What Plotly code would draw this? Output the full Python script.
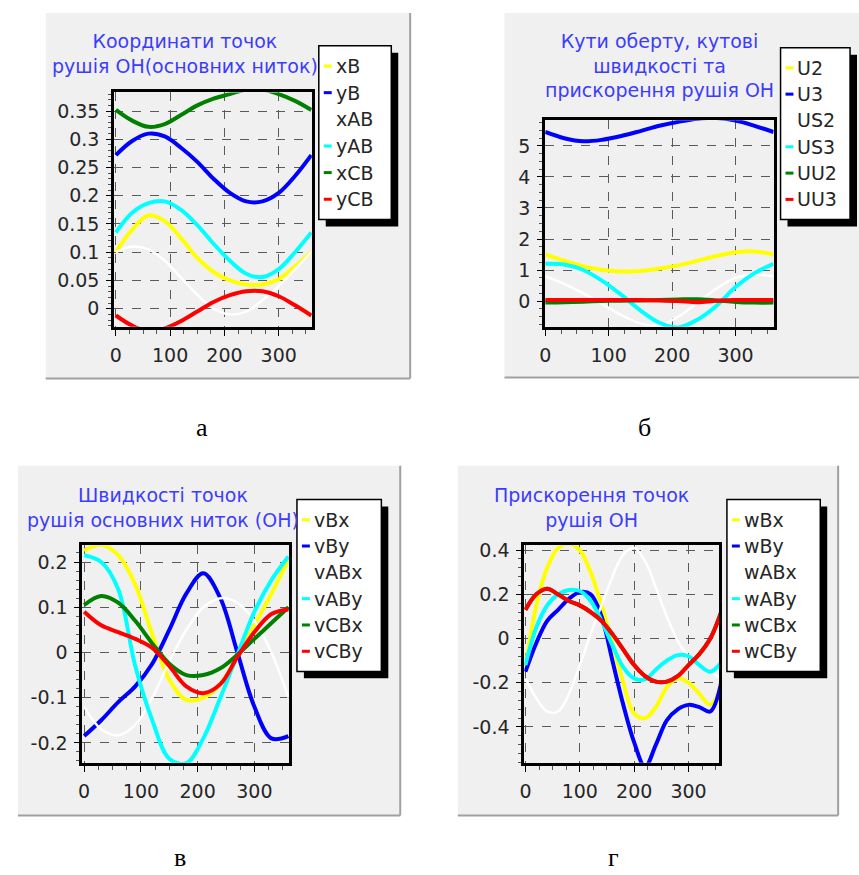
import plotly.graph_objects as go

W, H = 859, 875

# ---------------- data ----------------
x_deg = [0, 30, 60, 90, 120, 150, 180, 210, 240, 270, 300, 330, 360]
x_deg20 = [0, 20, 40, 60, 80, 100, 120, 140, 160, 180, 200, 220, 240, 260, 280, 300, 320, 340, 360]

# panel а : coordinates
names_a = ["xB", "yB", "xAB", "yAB", "xCB", "yCB"]
xB = [0.10, 0.14, 0.165, 0.155, 0.125, 0.09, 0.065, 0.05, 0.043, 0.043, 0.052, 0.075, 0.10]
yB = [0.272, 0.297, 0.31, 0.305, 0.285, 0.26, 0.23, 0.205, 0.19, 0.19, 0.205, 0.235, 0.272]
xAB = [0.10, 0.11, 0.105, 0.085, 0.055, 0.025, 0.0, -0.01, -0.005, 0.015, 0.04, 0.07, 0.10]
yAB = [0.135, 0.17, 0.187, 0.19, 0.175, 0.148, 0.115, 0.085, 0.062, 0.056, 0.07, 0.10, 0.135]
xCB = [0.352, 0.333, 0.322, 0.327, 0.343, 0.36, 0.372, 0.38, 0.388, 0.388, 0.38, 0.368, 0.352]
yCB = [-0.012, -0.03, -0.04, -0.035, -0.022, -0.005, 0.012, 0.024, 0.031, 0.031, 0.022, 0.006, -0.012]

# panel б : angles, angular velocities, accelerations
names_b = ["U2", "U3", "US2", "US3", "UU2", "UU3"]
U2 = [1.5, 1.3, 1.12, 1.0, 0.95, 0.97, 1.05, 1.15, 1.3, 1.45, 1.57, 1.6, 1.5]
U3 = [5.45, 5.25, 5.15, 5.2, 5.32, 5.48, 5.65, 5.78, 5.88, 5.9, 5.82, 5.65, 5.45]
US2 = [0.8, 0.55, 0.25, -0.1, -0.45, -0.72, -0.78, -0.5, -0.05, 0.4, 0.75, 0.85, 0.8]
US3 = [1.2, 1.18, 1.0, 0.65, 0.2, -0.3, -0.7, -0.85, -0.6, -0.15, 0.45, 0.9, 1.2]
UU2 = [-0.05, -0.04, -0.02, 0.0, 0.01, 0.02, 0.03, 0.05, 0.06, 0.02, -0.03, -0.05, -0.05]
UU3 = [0.03, 0.03, 0.03, 0.03, 0.03, 0.03, 0.02, 0.0, -0.04, 0.01, 0.03, 0.03, 0.03]

# panel в : velocities
names_c = ["vBx", "vBy", "vABx", "vABy", "vCBx", "vCBy"]
vBx = [0.225, 0.238, 0.215, 0.15, 0.04, -0.06, -0.105, -0.1, -0.07, -0.01, 0.06, 0.13, 0.205]
vBy = [-0.185, -0.15, -0.11, -0.075, -0.025, 0.05, 0.13, 0.175, 0.12, 0.0, -0.12, -0.19, -0.185]
vABx = [-0.12, -0.17, -0.183, -0.16, -0.1, -0.02, 0.05, 0.1, 0.12, 0.11, 0.07, 0.0, -0.1]
vABy = [0.215, 0.2, 0.14, -0.03, -0.15, -0.235, -0.245, -0.19, -0.1, -0.005, 0.09, 0.16, 0.212]
vCBx = [0.105, 0.125, 0.11, 0.07, 0.02, -0.025, -0.05, -0.05, -0.035, -0.005, 0.03, 0.065, 0.10]
vCBy = [0.09, 0.06, 0.045, 0.03, 0.01, -0.03, -0.075, -0.09, -0.07, -0.01, 0.045, 0.085, 0.095]

# panel г : accelerations
names_d = ["wBx", "wBy", "wABx", "wABy", "wCBx", "wCBy"]
wBx = [-0.13, 0.15, 0.32, 0.41, 0.43, 0.4, 0.3, 0.15, -0.02, -0.2, -0.34, -0.36, -0.31, -0.22, -0.18, -0.2, -0.25, -0.3, -0.22]
wBy = [-0.15, -0.02, 0.08, 0.13, 0.18, 0.21, 0.2, 0.1, -0.1, -0.3, -0.47, -0.58, -0.48, -0.37, -0.32, -0.3, -0.31, -0.33, -0.2]
wABx = [-0.18, -0.27, -0.33, -0.33, -0.25, -0.12, 0.02, 0.15, 0.28, 0.38, 0.41, 0.35, 0.23, 0.1, -0.01, -0.08, -0.12, -0.15, -0.18]
wABy = [-0.12, 0.05, 0.15, 0.2, 0.22, 0.215, 0.17, 0.08, -0.03, -0.13, -0.18, -0.185, -0.14, -0.1, -0.075, -0.08, -0.12, -0.15, -0.11]
wCBx = [0.13, 0.2, 0.225, 0.2, 0.17, 0.15, 0.12, 0.08, 0.02, -0.05, -0.12, -0.17, -0.195, -0.195, -0.17, -0.12, -0.07, 0.0, 0.12]
wCBy = [0.13, 0.2, 0.225, 0.2, 0.17, 0.15, 0.12, 0.08, 0.02, -0.05, -0.12, -0.17, -0.195, -0.195, -0.17, -0.12, -0.07, 0.0, 0.12]

titles = ["Координати точок<br>рушія ОН(основних ниток)",
          "Кути оберту, кутові<br>швидкості та<br>прискорення рушія ОН",
          "Швидкості точок<br>рушія основних ниток (ОН)",
          "Прискорення точок<br>рушія ОН"]
captions = ["а", "б", "в", "г"]
x_ticks = [0, 100, 200, 300]
y_ticks_a = [0, 0.05, 0.1, 0.15, 0.2, 0.25, 0.3, 0.35]
y_tick_text_a = ["0", "0.05", "0.1", "0.15", "0.2", "0.25", "0.3", "0.35"]
y_ticks_b = [0, 1, 2, 3, 4, 5]
y_ticks_c = [-0.2, -0.1, 0, 0.1, 0.2]
y_ticks_d = [-0.4, -0.2, 0, 0.2, 0.4]

series_colors = ["#ffff00", "#0000ff", "#ffffff", "#00ffff", "#008000", "#ff0000"]

# ---------------- layout helpers ----------------
def fx(px):
    return px / W

def fy(py):
    return 1 - py / H

FONT = "DejaVu Sans"
TXT = "#262626"
TITLE_COL = "#3c3cff"
PANEL_BG = "#f0f0f0"
TICK_SIZE = 19
TITLE_SIZE = 19

panels = [
    dict(box=(40, 7, 407, 375), plot=(109, 87, 308, 323), xr=[-3, 361], yr=[-0.032, 0.383],
         yt=y_ticks_a, ytt=y_tick_text_a, ydt=0.01, tx=180, ty=22, leg=(315, 40, 388, 215),
         names=names_a, data=[xB, yB, xAB, yAB, xCB, yCB], xs=x_deg, cap=(197, 424)),
    dict(box=(502, 7, 870, 374), plot=(543, 115, 773, 323), xr=[0, 360], yr=[-0.83, 5.83],
         yt=y_ticks_b, ytt=[str(v) for v in y_ticks_b], ydt=0.25, tx=658, ty=22, leg=(780, 42, 850, 215),
         names=names_b, data=[U2, U3, US2, US3, UU2, UU3], xs=x_deg, cap=(643, 424)),
    dict(box=(12, 463, 397, 815), plot=(77, 543, 285, 762), xr=[-3, 361], yr=[-0.244, 0.237],
         yt=y_ticks_c, ytt=["-0.2", "-0.1", "0", "0.1", "0.2"], ydt=0.02, tx=158, ty=479,
         leg=(293, 497, 378, 670), names=names_c, data=[vBx, vBy, vABx, vABy, vCBx, vCBy],
         xs=x_deg, cap=(175, 857)),
    dict(box=(455, 463, 838, 815), plot=(522, 543, 718, 762), xr=[-2, 356], yr=[-0.562, 0.422],
         yt=y_ticks_d, ytt=["-0.4", "-0.2", "0", "0.2", "0.4"], ydt=0.04, tx=590, ty=479,
         leg=(726, 497, 820, 670), names=names_d, data=[wBx, wBy, wABx, wABy, wCBx, wCBy],
         xs=x_deg20, cap=(612, 857)),
]

fig = go.Figure()
shapes = []
annotations = []

for i, p in enumerate(panels):
    k = "" if i == 0 else str(i + 1)
    l, t, r, b = p["plot"]
    bl, bt, br, bb = p["box"]
    shapes.append(dict(type="rect", xref="paper", yref="paper", x0=fx(bl), x1=fx(br),
                       y0=fy(bb), y1=fy(bt), fillcolor=PANEL_BG, line=dict(width=0), layer="below"))
    shapes.append(dict(type="line", xref="paper", yref="paper", x0=fx(bl), x1=fx(br),
                       y0=fy(bb), y1=fy(bb), line=dict(color="#a0a0a0", width=2), layer="below"))
    shapes.append(dict(type="line", xref="paper", yref="paper", x0=fx(br), x1=fx(br),
                       y0=fy(bb), y1=fy(bt), line=dict(color="#a0a0a0", width=2), layer="below"))

    fig.update_layout(**{
        "xaxis" + k: dict(domain=[fx(l), fx(r)], range=p["xr"], anchor="y" + k,
                          tickvals=x_ticks, ticks="outside", ticklen=6, tickwidth=1, tickcolor="#000",
                          minor=dict(dtick=25, tick0=0, ticks="outside", ticklen=4, tickcolor="#555",
                                     showgrid=False),
                          showgrid=True, gridcolor="#5a5a5a", griddash="dash", gridwidth=1,
                          showline=True, linecolor="#000", linewidth=3, mirror=True,
                          zeroline=False, tickfont=dict(family=FONT, size=TICK_SIZE, color=TXT),
                          ticklabelstandoff=3, fixedrange=True),
        "yaxis" + k: dict(domain=[fy(b), fy(t)], range=p["yr"], anchor="x" + k,
                          tickvals=p["yt"], ticktext=p["ytt"], ticks="outside", ticklen=5,
                          tickcolor="#000",
                          minor=dict(dtick=p["ydt"], tick0=0, ticks="outside", ticklen=3,
                                     tickcolor="#555", showgrid=False),
                          showgrid=True, gridcolor="#5a5a5a", griddash="dash", gridwidth=1,
                          showline=True, linecolor="#000", linewidth=3, mirror=True,
                          zeroline=False, tickfont=dict(family=FONT, size=TICK_SIZE, color=TXT),
                          ticklabelstandoff=3, fixedrange=True),
    })
    shapes.append(dict(type="rect", xref="paper", yref="paper", x0=fx(l), x1=fx(r),
                       y0=fy(b), y1=fy(t), fillcolor=PANEL_BG, line=dict(width=0), layer="below"))

    for name, ys, col in zip(p["names"], p["data"], series_colors):
        fig.add_trace(go.Scatter(x=p["xs"], y=ys, name=name, mode="lines",
                                 line=dict(color=col, width=2.5 if col == "#ffffff" else 4,
                                           shape="spline", smoothing=1.0),
                                 xaxis="x" + k, yaxis="y" + k, showlegend=False,
                                 hoverinfo="skip"))

    annotations.append(dict(text=titles[i], xref="paper", yref="paper", x=fx(p["tx"]),
                            y=fy(p["ty"]), xanchor="center", yanchor="top", showarrow=False,
                            font=dict(family=FONT, size=TITLE_SIZE, color=TITLE_COL), align="center"))

    ll, lt, lr, lb = p["leg"]
    shapes.append(dict(type="rect", xref="paper", yref="paper", x0=fx(ll + 7), x1=fx(lr + 7),
                       y0=fy(lb + 7), y1=fy(lt + 7), fillcolor="#000", line=dict(width=0)))
    shapes.append(dict(type="rect", xref="paper", yref="paper", x0=fx(ll), x1=fx(lr),
                       y0=fy(lb), y1=fy(lt), fillcolor="#ffffff",
                       line=dict(color="#000", width=1.5)))
    n = len(p["names"])
    step = (lb - lt - 14) / n
    for j, (name, col) in enumerate(zip(p["names"], series_colors)):
        cy = lt + 7 + step * (j + 0.5)
        shapes.append(dict(type="line", xref="paper", yref="paper", x0=fx(ll + 5), x1=fx(ll + 13),
                           y0=fy(cy), y1=fy(cy), line=dict(color=col, width=3)))
        annotations.append(dict(text=name, xref="paper", yref="paper", x=fx(ll + 15), y=fy(cy),
                                xanchor="left", yanchor="middle", showarrow=False,
                                font=dict(family=FONT, size=TICK_SIZE, color=TXT)))

    cx, cyc = p["cap"]
    annotations.append(dict(text=captions[i], xref="paper", yref="paper", x=fx(cx), y=fy(cyc),
                            xanchor="center", yanchor="middle", showarrow=False,
                            font=dict(family="Liberation Serif", size=26, color="#000")))

fig.update_layout(width=W, height=H, margin=dict(l=0, r=0, t=0, b=0),
                  paper_bgcolor="#ffffff", plot_bgcolor="rgba(0,0,0,0)",
                  shapes=shapes, annotations=annotations, showlegend=False)

fig.write_html("out.html", config={"displayModeBar": False})
